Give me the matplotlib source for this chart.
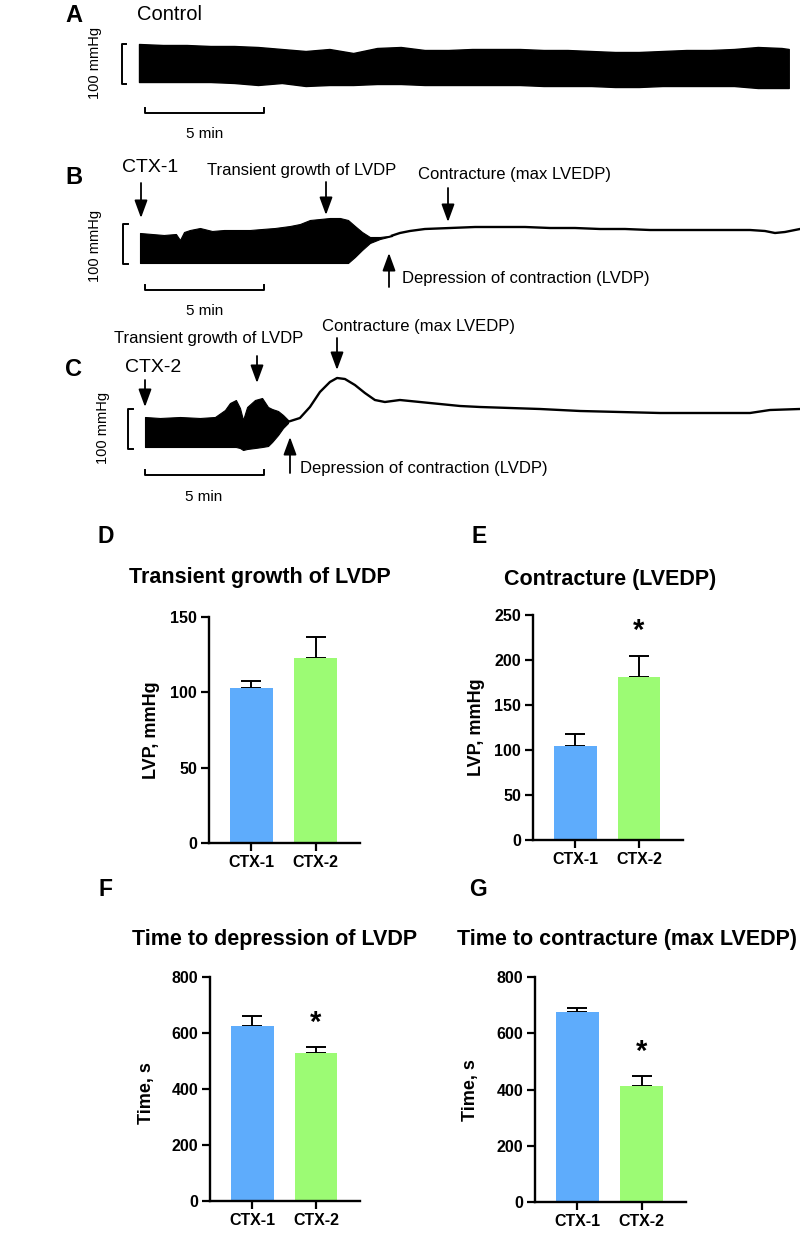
import numpy as np
import matplotlib
matplotlib.use('Agg')
import matplotlib.pyplot as plt

plt.rcParams['font.family'] = ['Liberation Sans', 'DejaVu Sans']

W, H = 800, 1236
PX_MIN = 23.8      # pixels per minute in the traces
PX_MMHG = 0.4      # pixels per mmHg in the traces

# ---- trace A (control), time in min, pressure in mmHg
a_t = [0, 1, 2, 3, 4, 5, 6, 7, 8, 9, 10, 11, 12, 13, 14, 15, 16, 17, 18, 19,
       20, 21, 22, 23, 24, 25, 26, 27, 27.3]
a_top = [115, 112.5, 112.5, 110, 110, 107.5, 102.5, 97.5, 102.5, 92.5, 105, 107.5,
         100, 100, 102.5, 102.5, 102.5, 100, 100, 97.5, 95, 95, 97.5, 100, 100,
         102.5, 107.5, 105, 102.5]
a_bot = [20, 20, 20, 20, 17.5, 12.5, 17.5, 10, 12.5, 12.5, 15, 15, 12.5, 12.5,
         12.5, 12.5, 12.5, 10, 10, 10, 7.5, 7.5, 10, 10, 10, 10, 5, 5, 5]

# ---- trace B (CTX-1)
b_t = [0, 0.5, 1.0, 1.51, 1.68, 1.85, 2.1, 2.52, 3.03, 3.53, 4.03, 4.62, 5.13,
       5.67, 6.3, 6.72, 7.14, 7.56, 7.98, 8.4, 8.74, 9.03, 9.33, 9.66, 10.08,
       10.42, 10.59]
b_top = [92.5, 90, 87.5, 90, 75, 95, 100, 105, 97.5, 100, 100, 100, 102.5, 105,
         110, 115, 125, 127.5, 130, 130, 125, 110, 95, 82.5, 82.5, 85, 87.5]
b_bot = [17.5, 17.5, 17.5, 17.5, 17.5, 17.5, 17.5, 17.5, 17.5, 17.5, 17.5, 17.5,
         17.5, 17.5, 17.5, 17.5, 17.5, 17.5, 17.5, 17.5, 17.5, 32.5, 50, 67.5,
         77.5, 82.5, 85]
b_line_t = [10.59, 10.92, 11.34, 11.97, 13.03, 14.08, 15.13, 16.18, 17.23, 18.28,
            19.33, 20.38, 21.43, 22.48, 23.53, 24.58, 25.63, 26.26, 26.68, 27.1, 27.73]
b_line_p = [86, 92.5, 97.5, 102.5, 105, 107.5, 107.5, 107.5, 105, 105, 102.5,
            102.5, 100, 100, 100, 100, 100, 97.5, 92.5, 95, 102.5]

# ---- trace C (CTX-2)
c_t = [0, 0.63, 1.47, 2.31, 2.94, 3.36, 3.57, 3.82, 3.99, 4.12, 4.29, 4.62,
       4.92, 5.17, 5.34, 5.59, 5.8, 6.01]
c_top = [95, 92.5, 95, 92.5, 95, 112.5, 130, 137.5, 117.5, 87.5, 120, 137.5,
         142.5, 120, 115, 110, 100, 87.5]
c_bot = [20, 20, 20, 20, 20, 20, 20, 20, 17.5, 12.5, 15, 17.5, 20, 22.5, 32.5,
         50, 67.5, 80]
c_line_t = [6.01, 6.51, 6.93, 7.35, 7.77, 8.07, 8.4, 8.82, 9.24, 9.66, 10.08,
            10.71, 11.13, 11.97, 13.24, 14.08, 15.34, 16.6, 18.28, 19.96, 21.64,
            23.32, 25.42, 26.26, 27.52]
c_line_p = [83, 92.5, 120, 157.5, 182.5, 192.5, 190, 175, 155, 137.5, 132.5,
            137.5, 135, 130, 122.5, 120, 117.5, 115, 110, 107.5, 105, 105, 105,
            112.5, 115]

# ---- bar summaries (mean, SEM)
groups = ['CTX-1', 'CTX-2']
growth_lvdp = [103, 123]
growth_lvdp_sem = [4.5, 14]
lvedp = [104, 181]
lvedp_sem = [14, 24]
time_depr = [625, 530]
time_depr_sem = [34, 20]
time_contr = [677, 412]
time_contr_sem = [13, 36]
bar_colors = ['#5eacfc', '#9cfb74']

fig = plt.figure(figsize=(8, 12.36), dpi=100)


def fx(x):
    return x / W


def fy(y):
    return 1 - y / H


def ftext(x, y, s, **kw):
    kw.setdefault('ha', 'center')
    kw.setdefault('va', 'center')
    fig.text(fx(x), fy(y), s, **kw)


def arrow(x, y_from, y_to):
    fig.add_artist(matplotlib.patches.FancyArrowPatch(
        (fx(x), fy(y_from)), (fx(x), fy(y_to)), transform=fig.transFigure,
        arrowstyle='-|>,head_length=0.6,head_width=0.22', mutation_scale=18,
        lw=1.3, color='black', shrinkA=0, shrinkB=0))


def trace_axes(x0, y0, ytop, ybot):
    # x0: pixel where t=0, y0: pixel where p=0
    ax = fig.add_axes([0, fy(ybot), 1, (ybot - ytop) / H])
    ax.set_xlim(-x0 / PX_MIN, (W - x0) / PX_MIN)
    ax.set_ylim((y0 - ybot) / PX_MMHG, (y0 - ytop) / PX_MMHG)
    ax.axis('off')
    return ax


def scale_bars(ax, t_bracket, t_bar, p_bar):
    ax.plot([t_bracket + 0.2, t_bracket, t_bracket, t_bracket + 0.2],
            [15, 15, 115, 115], color='black', lw=1.4, clip_on=False)
    ax.plot([t_bar, t_bar, t_bar + 5, t_bar + 5],
            [p_bar + 12, p_bar, p_bar, p_bar + 12], color='black', lw=1.4,
            clip_on=False)


# ---------------- A
axA = trace_axes(139, 90, 0, 150)
axA.fill_between(a_t, a_bot, a_top, color='black', lw=1.0)
scale_bars(axA, -0.73, 0.25, -57.5)
ftext(74, 15, 'A', fontsize=17, fontweight='bold')
ftext(169, 14, 'Control', fontsize=14.5)
ftext(95, 63, '100 mmHg', fontsize=10.5, rotation=90)
ftext(205, 134, '5 min', fontsize=11)

# ---------------- B
axB = trace_axes(140, 270, 150, 330)
axB.fill_between(b_t, b_bot, b_top, color='black', lw=0.8)
axB.plot(b_line_t, b_line_p, color='black', lw=1.7)
scale_bars(axB, -0.71, 0.21, -50)
ftext(74, 178, 'B', fontsize=17, fontweight='bold')
ftext(150, 168, 'CTX-1', fontsize=14)
ftext(302, 171, 'Transient growth of LVDP', fontsize=12)
ftext(514, 175, 'Contracture (max LVEDP)', fontsize=12)
ftext(402, 278, 'Depression of contraction (LVDP)', fontsize=12, ha='left')
ftext(95, 246, '100 mmHg', fontsize=10.5, rotation=90)
ftext(205, 311, '5 min', fontsize=11)
arrow(141, 183, 218)
arrow(326, 182, 215)
arrow(448, 188, 222)
arrow(389, 287, 253)

# ---------------- C
axC = trace_axes(145, 455, 320, 510)
axC.fill_between(c_t, c_bot, c_top, color='black', lw=0.8)
axC.plot(c_line_t, c_line_p, color='black', lw=1.7)
scale_bars(axC, -0.71, 0.0, -50)
ftext(73, 370, 'C', fontsize=17, fontweight='bold')
ftext(153, 367, 'CTX-2', fontsize=14)
ftext(209, 339, 'Transient growth of LVDP', fontsize=12)
ftext(418, 327, 'Contracture (max LVEDP)', fontsize=12)
ftext(300, 468, 'Depression of contraction (LVDP)', fontsize=12, ha='left')
ftext(103, 428, '100 mmHg', fontsize=10.5, rotation=90)
ftext(204, 497, '5 min', fontsize=11)
arrow(145, 380, 407)
arrow(257, 356, 383)
arrow(337, 338, 370)
arrow(290, 473, 437)


# ---------------- bar charts
def bar_panel(left, right, top, bottom, vals, sems, ymax, ystep, star):
    ax = fig.add_axes([fx(left), fy(bottom), (right - left) / W, (bottom - top) / H])
    x = np.arange(len(groups))
    ax.bar(x, vals, width=0.67, color=bar_colors, zorder=2)
    ax.errorbar(x, vals, yerr=[np.zeros(len(vals)), sems], fmt='none',
                ecolor='black', elinewidth=1.4, capsize=7, capthick=1.4, zorder=1)
    ax.set_xlim(-0.66, 1.69)
    ax.set_ylim(0, ymax)
    ax.set_yticks(np.arange(0, ymax + 1, ystep))
    ax.set_xticks(x)
    ax.set_xticklabels(groups)
    for s in ['top', 'right']:
        ax.spines[s].set_visible(False)
    for s in ['left', 'bottom']:
        ax.spines[s].set_linewidth(1.7)
    ax.tick_params(length=6, width=1.6, pad=2.5, labelsize=11.5)
    for lab in ax.get_xticklabels() + ax.get_yticklabels():
        lab.set_fontweight('bold')
    if star:
        ax.text(1, vals[1] + sems[1] + ymax * 0.045, '*', ha='center',
                va='bottom', fontsize=21, fontweight='bold')
    return ax


bar_panel(209, 360, 617, 843, growth_lvdp, growth_lvdp_sem, 150, 50, False)
ftext(106, 537, 'D', fontsize=16.5, fontweight='bold')
ftext(260, 578, 'Transient growth of LVDP', fontsize=15.5, fontweight='bold')
ftext(152, 730, 'LVP, mmHg', fontsize=13, fontweight='bold', rotation=90)

bar_panel(533, 683, 615, 840, lvedp, lvedp_sem, 250, 50, True)
ftext(479, 537, 'E', fontsize=16.5, fontweight='bold')
ftext(610, 580, 'Contracture (LVEDP)', fontsize=15.5, fontweight='bold')
ftext(477, 727, 'LVP, mmHg', fontsize=13, fontweight='bold', rotation=90)

bar_panel(210, 360, 977, 1201, time_depr, time_depr_sem, 800, 200, True)
ftext(105, 889, 'F', fontsize=16.5, fontweight='bold')
ftext(275, 940, 'Time to depression of LVDP', fontsize=15.5, fontweight='bold')
ftext(146, 1093, 'Time, s', fontsize=13, fontweight='bold', rotation=90)

bar_panel(535, 686, 977, 1202, time_contr, time_contr_sem, 800, 200, True)
ftext(478, 889, 'G', fontsize=16.5, fontweight='bold')
ftext(457, 940, 'Time to contracture (max LVEDP)', fontsize=15.5,
      fontweight='bold', ha='left')
ftext(471, 1090, 'Time, s', fontsize=13, fontweight='bold', rotation=90)

fig.savefig('out.png', dpi=100)
